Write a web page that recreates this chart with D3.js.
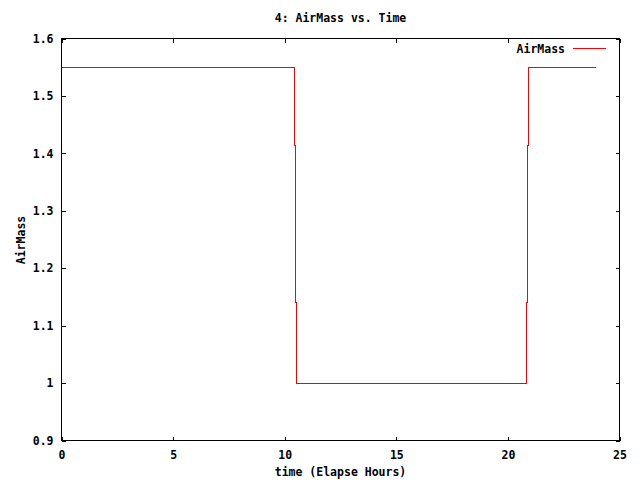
<!DOCTYPE html>
<html>
<head>
<meta charset="utf-8">
<script src="https://cdn.jsdelivr.net/npm/d3@7"></script>
<style>
  html, body { margin: 0; padding: 0; background: #fff; }
  svg { display: block; }
  text { font-family: "DejaVu Sans Mono", "Liberation Mono", monospace; font-weight: bold; font-size: 11.5px; fill: #000; }
</style>
</head>
<body>
<svg id="chart" width="640" height="480"></svg>
<script>
// Data
const timeHours = [0, 10.42, 10.47, 10.51, 20.84, 20.89, 20.93, 23.95];
const airMass   = [1.55, 1.414, 1.14, 1.0, 1.14, 1.414, 1.55, 1.55];
const xTicks = [0, 5, 10, 15, 20, 25];
const yTicks = [0.9, 1.0, 1.1, 1.2, 1.3, 1.4, 1.5, 1.6];
const titleText = "4: AirMass vs. Time";
const xLabel = "time (Elapse Hours)";
const yLabel = "AirMass";
const seriesName = "AirMass";

const svg = d3.select("#chart");
const L = 61.5, R = 619.5, T = 38.5, B = 440.5;

const x = d3.scaleLinear().domain([0, 25]).range([L, R]);
const y = d3.scaleLinear().domain([0.9, 1.6]).range([B, T]);
const fmt = d => String(+d.toFixed(1));

// Border
svg.append("rect")
  .attr("x", L).attr("y", T).attr("width", R - L).attr("height", B - T)
  .attr("fill", "none").attr("stroke", "#000").attr("stroke-width", 1)
  .attr("shape-rendering", "crispEdges");

function styleAxis(g, keepText) {
  g.select(".domain").remove();
  g.selectAll(".tick line").attr("stroke", "#000").attr("shape-rendering", "crispEdges");
  g.selectAll(".tick text").attr("font-family", null).attr("font-size", null);
  if (!keepText) g.selectAll(".tick text").remove();
  g.attr("font-family", null).attr("font-size", null);
}

svg.append("g").attr("transform", `translate(0,${B})`)
  .call(d3.axisBottom(x).tickValues(xTicks).tickFormat(fmt).tickSizeInner(-4).tickSizeOuter(0).tickPadding(10))
  .call(g => styleAxis(g, true));
svg.append("g").attr("transform", `translate(0,${T})`)
  .call(d3.axisTop(x).tickValues(xTicks).tickSizeInner(-4).tickSizeOuter(0))
  .call(g => styleAxis(g, false));
svg.append("g").attr("transform", `translate(${L},0)`)
  .call(d3.axisLeft(y).tickValues(yTicks).tickFormat(fmt).tickSizeInner(-4).tickSizeOuter(0).tickPadding(8))
  .call(g => styleAxis(g, true));
svg.append("g").attr("transform", `translate(${R},0)`)
  .call(d3.axisRight(y).tickValues(yTicks).tickSizeInner(-4).tickSizeOuter(0))
  .call(g => styleAxis(g, false));

// Series
const data = timeHours.map((t, i) => ({ t, a: airMass[i] }));
const line = d3.line().x(d => x(d.t)).y(d => y(d.a)).curve(d3.curveStepAfter);
svg.append("path").datum(data)
  .attr("d", line)
  .attr("fill", "none").attr("stroke", "#ff0000").attr("stroke-width", 1)
  .attr("shape-rendering", "crispEdges");

// Titles
svg.append("text").attr("x", (L + R) / 2).attr("y", 22).attr("text-anchor", "middle").text(titleText);
svg.append("text").attr("x", (L + R) / 2).attr("y", 476).attr("text-anchor", "middle").text(xLabel);
svg.append("text").attr("transform", `translate(21,240) rotate(-90)`).attr("text-anchor", "middle")
  .attr("dy", "0.35em").text(yLabel);

// Legend
svg.append("text").attr("x", 565).attr("y", 52.5).attr("text-anchor", "end").text(seriesName);
svg.append("line").attr("x1", 573).attr("x2", 606).attr("y1", 48.5).attr("y2", 48.5)
  .attr("stroke", "#ff0000").attr("stroke-width", 1).attr("shape-rendering", "crispEdges");
</script>
</body>
</html>
